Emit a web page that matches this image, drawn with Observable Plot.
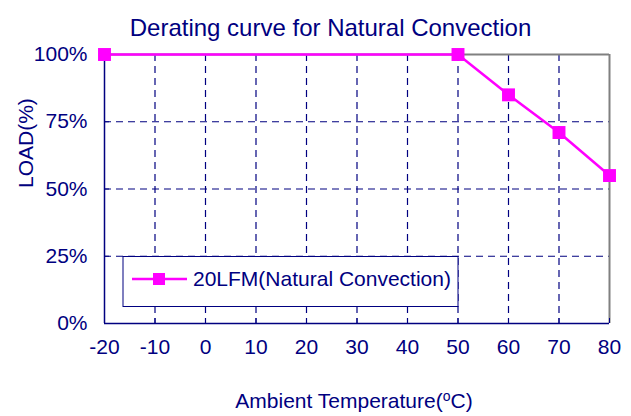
<!DOCTYPE html>
<html>
<head>
<meta charset="utf-8">
<script src="https://cdn.jsdelivr.net/npm/d3@7"></script>
<script src="https://cdn.jsdelivr.net/npm/@observablehq/plot@0.6"></script>
<style>
  html, body { margin: 0; padding: 0; background: white; }
  #wrap { position: relative; width: 631px; height: 416px; font-family: "Liberation Sans", Arial, sans-serif; }
  #overlay { position: absolute; left: 0; top: 0; pointer-events: none; }
</style>
</head>
<body>
<div id="wrap"></div>
<script>
// Data
const temps = [-20, 50, 60, 70, 80];
const loads = [100, 100, 85, 71, 55];
const xTicks = [-20, -10, 0, 10, 20, 30, 40, 50, 60, 70, 80];
const yTicks = [0, 25, 50, 75, 100];
const gridX = [-10, 0, 10, 20, 30, 40, 50, 60, 70];
const gridY = [25, 50, 75];
const titleText = "Derating curve for Natural Convection";
const yLabel = "LOAD(%)";
const seriesName = "20LFM(Natural Convection)";

const data = temps.map((t, i) => ({t, load: loads[i]}));

const NAVY = "#000080";
const MAG = "#FF00FF";
const FONT = "'Liberation Sans', Arial, sans-serif";

const chart = Plot.plot({
  width: 631,
  height: 416,
  marginLeft: 104,
  marginRight: 22,
  marginTop: 54,
  marginBottom: 93,
  x: {domain: [-20, 80], axis: null},
  y: {domain: [0, 100], axis: null},
  style: {fontFamily: FONT, color: NAVY, background: "white", overflow: "visible"},
  marks: [
    Plot.ruleX(gridX, {stroke: NAVY, strokeDasharray: "7,5", strokeWidth: 1.2}),
    Plot.ruleY(gridY, {stroke: NAVY, strokeDasharray: "7,5", strokeWidth: 1.2}),
    Plot.ruleY([100], {stroke: "#808080", strokeWidth: 2}),
    Plot.ruleX([80], {stroke: "#808080", strokeWidth: 2}),
    Plot.ruleY([0], {stroke: NAVY, strokeWidth: 1.5}),
    Plot.ruleX([-20], {stroke: NAVY, strokeWidth: 1.5}),
    Plot.ruleX(xTicks, {y1: 0, y2: 0, insetTop: -5, stroke: NAVY, strokeWidth: 1}),
    Plot.ruleY(yTicks, {x1: -20, x2: -20, insetRight: -5, stroke: NAVY, strokeWidth: 1}),
    Plot.text(xTicks, {x: d => d, frameAnchor: "bottom", dy: 30, text: d => String(d), fontSize: 21, fill: NAVY}),
    Plot.text(yTicks, {y: d => d, frameAnchor: "left", dx: -17, textAnchor: "end", text: d => d + "%", fontSize: 21, fill: NAVY}),
    Plot.text([titleText], {frameAnchor: "top", dx: -26.5, dy: -35.5, fontSize: 24, fill: NAVY}),
    Plot.text([yLabel], {frameAnchor: "left", rotate: -90, dx: -78, dy: -1, fontSize: 21, fill: NAVY}),
    Plot.line(data, {x: "t", y: "load", stroke: MAG, strokeWidth: 2.5}),
    Plot.dot(data, {x: "t", y: "load", symbol: "square", r: 7.3, fill: MAG, stroke: "none"})
  ]
});
document.getElementById("wrap").appendChild(chart);

// Overlay: legend box and x-axis label (decoration)
const ov = d3.select("#wrap").append("svg")
  .attr("id", "overlay").attr("width", 631).attr("height", 416)
  .style("font-family", FONT);
ov.append("rect").attr("x", 123).attr("y", 256.5).attr("width", 335).attr("height", 50)
  .attr("fill", "white").attr("stroke", NAVY).attr("stroke-width", 1);
ov.append("line").attr("x1", 132).attr("x2", 187).attr("y1", 279).attr("y2", 279)
  .attr("stroke", MAG).attr("stroke-width", 2.5);
ov.append("rect").attr("x", 153).attr("y", 273).attr("width", 12).attr("height", 12).attr("fill", MAG);
ov.append("text").attr("x", 193).attr("y", 286).attr("font-size", 21).attr("fill", NAVY).text(seriesName);
const xl = ov.append("text").attr("x", 354).attr("y", 408).attr("text-anchor", "middle")
  .attr("font-size", 21).attr("fill", NAVY);
xl.append("tspan").text("Ambient Temperature(");
xl.append("tspan").attr("font-size", 14).attr("dy", -7).text("o");
xl.append("tspan").attr("dy", 7).text("C)");
</script>
</body>
</html>
